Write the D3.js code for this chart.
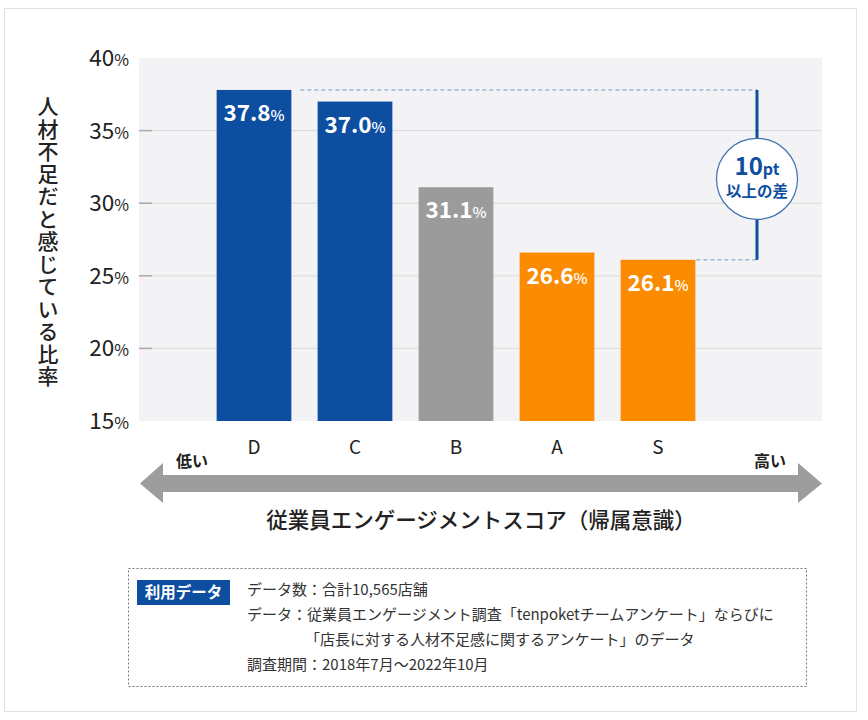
<!DOCTYPE html>
<html><head><meta charset="utf-8">
<script src="https://cdn.jsdelivr.net/npm/d3@7"></script>
<style>
body{margin:0;background:#fff;}
svg{display:block;font-family:"Noto Sans CJK JP","Noto Sans",sans-serif;}
</style></head>
<body><svg id="c" width="868" height="720"></svg>
<script>
const categories = ["D","C","B","A","S"];
const values = [37.8, 37.0, 31.1, 26.6, 26.1];
const barColors = ["#0e4ea1","#0e4ea1","#9b9b9b","#fb8b00","#fb8b00"];
const yTicks = [15,20,25,30,35,40];
const yTitle = "人材不足だと感じている比率";
const xTitle = "従業員エンゲージメントスコア（帰属意識）";
const lowLabel = "低い", highLabel = "高い";
const noteTag = "利用データ";
const noteLines = [
  "データ数：合計10,565店舗",
  "データ：従業員エンゲージメント調査「tenpoketチームアンケート」ならびに",
  "「店長に対する人材不足感に関するアンケート」のデータ",
  "調査期間：2018年7月〜2022年10月"
];

const svg = d3.select("#c");
svg.append("rect").attr("x",4.5).attr("y",8.5).attr("width",852).attr("height",703)
  .attr("fill","#fff").attr("stroke","#e2e2e2");

const plot = {l:139, r:822, t:58, b:421};
const y = d3.scaleLinear().domain([15,40]).range([plot.b, plot.t]);
const x = d3.scaleBand().domain(categories).range([203.5, 708.5]).paddingInner(0.26).paddingOuter(0.13);

svg.append("rect").attr("x",plot.l).attr("y",plot.t).attr("width",plot.r-plot.l).attr("height",plot.b-plot.t).attr("fill","#f3f3f5");

const g = svg.append("g");
const inner = yTicks.filter(d=>d>15 && d<40);
g.selectAll("line.grid").data(inner).join("line").attr("class","grid")
  .attr("x1",plot.l).attr("x2",plot.r).attr("y1",d=>y(d)).attr("y2",d=>y(d))
  .attr("stroke","#dadadc").attr("stroke-width",1);
g.selectAll("line.tk").data(inner).join("line").attr("class","tk")
  .attr("x1",plot.l).attr("x2",plot.l+13).attr("y1",d=>y(d)).attr("y2",d=>y(d))
  .attr("stroke","#aaaaaa").attr("stroke-width",1.5);

const yl = svg.append("g").selectAll("text").data(yTicks).join("text")
  .attr("x",129).attr("y",d=>y(d)+8).attr("text-anchor","end").attr("fill","#222");
yl.append("tspan").attr("font-size",22.5).text(d=>d);
yl.append("tspan").attr("font-size",16).text("%");

svg.append("text").attr("x",48).attr("y",242).attr("text-anchor","middle")
  .style("writing-mode","vertical-rl").attr("font-size",21).attr("font-weight",500)
  .attr("fill","#222").attr("letter-spacing",1.5).text(yTitle);

svg.append("g").selectAll("rect").data(values).join("rect")
  .attr("x",(d,i)=>x(categories[i])).attr("width",x.bandwidth())
  .attr("y",d=>y(d)).attr("height",d=>y(15)-y(d)).attr("fill",(d,i)=>barColors[i]);

const bl = svg.append("g").selectAll("text").data(values).join("text")
  .attr("x",(d,i)=>x(categories[i])+x.bandwidth()/2).attr("y",d=>y(d)+31)
  .attr("text-anchor","middle").attr("fill","#fff").attr("font-weight",700);
bl.append("tspan").attr("font-size",22.5).text(d=>d.toFixed(1));
bl.append("tspan").attr("font-size",15).attr("font-weight",500).text("%");

svg.append("g").selectAll("text").data(categories).join("text")
  .attr("x",d=>x(d)+x.bandwidth()/2).attr("y",454).attr("text-anchor","middle")
  .attr("font-size",19).attr("fill","#222").text(d=>d);

const ax = 757;
const topV = values[0], botV = values[4];
svg.append("line").attr("x1",x("D")+x.bandwidth()+9).attr("x2",ax).attr("y1",y(topV)).attr("y2",y(topV))
  .attr("stroke","#6f98c8").attr("stroke-width",1).attr("stroke-dasharray","4,3");
svg.append("line").attr("x1",x("S")+x.bandwidth()+1).attr("x2",ax).attr("y1",y(botV)).attr("y2",y(botV))
  .attr("stroke","#6f98c8").attr("stroke-width",1).attr("stroke-dasharray","4,3");
svg.append("line").attr("x1",ax).attr("x2",ax).attr("y1",y(topV)).attr("y2",y(botV))
  .attr("stroke","#0e4ea1").attr("stroke-width",3);
const cy = (y(topV)+y(botV))/2 + 4;
svg.append("circle").attr("cx",ax).attr("cy",cy).attr("r",40.5).attr("fill","#fff")
  .attr("stroke","#3d6fae").attr("stroke-width",1.2);
const t1 = svg.append("text").attr("x",ax).attr("y",cy-4).attr("text-anchor","middle")
  .attr("fill","#0e4ea1").attr("font-weight",700);
t1.append("tspan").attr("font-size",24).text("10");
t1.append("tspan").attr("font-size",16).text("pt");
svg.append("text").attr("x",ax).attr("y",cy+18).attr("text-anchor","middle")
  .attr("fill","#0e4ea1").attr("font-weight",700).attr("font-size",15.5).text("以上の差");

const ay = 483.5;
const arrow = [[140,ay],[163,463],[163,475],[798,475],[798,463],[822,ay],[798,503],[798,492],[163,492],[163,503]];
svg.append("path").attr("d",d3.line()(arrow)+"Z").attr("fill","#9d9d9d");
svg.append("text").attr("x",176).attr("y",467).attr("font-size",16).attr("font-weight",700).attr("fill","#222").text(lowLabel);
svg.append("text").attr("x",754).attr("y",467).attr("font-size",16).attr("font-weight",700).attr("fill","#222").text(highLabel);
svg.append("text").attr("x",481).attr("y",528).attr("text-anchor","middle").attr("font-size",21.5).attr("font-weight",500)
  .attr("fill","#222").text(xTitle);

svg.append("rect").attr("x",128.5).attr("y",568.5).attr("width",678).attr("height",118)
  .attr("fill","#fff").attr("stroke","#777").attr("stroke-width",1).attr("stroke-dasharray","2,2");
svg.append("rect").attr("x",137).attr("y",580).attr("width",93).attr("height",25).attr("fill","#0e4ea1");
svg.append("text").attr("x",183.5).attr("y",598).attr("text-anchor","middle").attr("fill","#fff")
  .attr("font-weight",700).attr("font-size",15.5).text(noteTag);
const nx = [247,247,305,247], ny = [595,620,645,670];
svg.append("g").selectAll("text").data(noteLines).join("text")
  .attr("x",(d,i)=>nx[i]).attr("y",(d,i)=>ny[i]).attr("font-size",15).attr("fill","#333").text(d=>d);
</script></body></html>
